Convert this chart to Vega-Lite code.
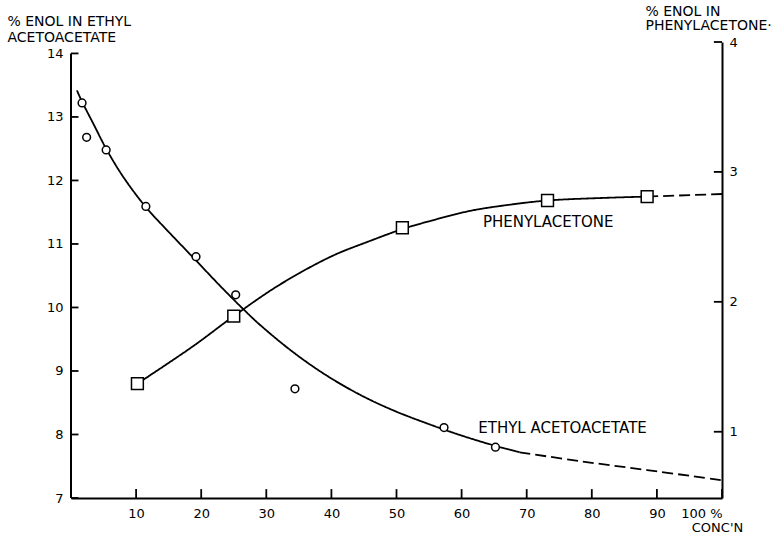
{
  "$schema": "https://vega.github.io/schema/vega-lite/v6.json",
  "width": 651,
  "height": 456,
  "autosize": {"type": "none"},
  "padding": {"left": 71, "top": 42, "right": 61, "bottom": 37},
  "background": "white",
  "config": {
    "view": {"stroke": null},
    "font": "DejaVu Sans",
    "axis": {
      "grid": false,
      "ticks": false,
      "domainColor": "black",
      "domainWidth": 2,
      "labelColor": "black",
      "labelFont": "DejaVu Sans",
      "labelFontSize": 13,
      "titleFont": "DejaVu Sans",
      "titleFontSize": 14,
      "titleFontWeight": "normal",
      "titleColor": "black"
    }
  },
  "datasets": {
    "ethylPts": [
      {"conc": 1.7, "enol": 13.22},
      {"conc": 2.4, "enol": 12.68},
      {"conc": 5.4, "enol": 12.48},
      {"conc": 11.5, "enol": 11.59},
      {"conc": 19.2, "enol": 10.8},
      {"conc": 25.3, "enol": 10.2},
      {"conc": 34.4, "enol": 8.72},
      {"conc": 57.3, "enol": 8.11},
      {"conc": 65.2, "enol": 7.8}
    ],
    "ethylCurve": [
      {"conc": 0.9, "enol": 13.42, "seg": "solid"},
      {"conc": 1.7, "enol": 13.24, "seg": "solid"},
      {"conc": 3.5, "enol": 12.88, "seg": "solid"},
      {"conc": 5.4, "enol": 12.5, "seg": "solid"},
      {"conc": 8, "enol": 12.06, "seg": "solid"},
      {"conc": 11.5, "enol": 11.58, "seg": "solid"},
      {"conc": 15, "enol": 11.19, "seg": "solid"},
      {"conc": 19.2, "enol": 10.74, "seg": "solid"},
      {"conc": 23, "enol": 10.33, "seg": "solid"},
      {"conc": 26.6, "enol": 9.96, "seg": "solid"},
      {"conc": 29.1, "enol": 9.72, "seg": "solid"},
      {"conc": 34.2, "enol": 9.29, "seg": "solid"},
      {"conc": 39.4, "enol": 8.92, "seg": "solid"},
      {"conc": 44.5, "enol": 8.62, "seg": "solid"},
      {"conc": 49.5, "enol": 8.38, "seg": "solid"},
      {"conc": 54.8, "enol": 8.17, "seg": "solid"},
      {"conc": 59.8, "enol": 7.99, "seg": "solid"},
      {"conc": 65.2, "enol": 7.82, "seg": "solid"},
      {"conc": 68.9, "enol": 7.72, "seg": "solid"},
      {"conc": 68.9, "enol": 7.72, "seg": "dashed"},
      {"conc": 78.2, "enol": 7.58, "seg": "dashed"},
      {"conc": 88.5, "enol": 7.44, "seg": "dashed"},
      {"conc": 100, "enol": 7.28, "seg": "dashed"}
    ],
    "phenylPts": [
      {"conc": 10.2, "enol": 1.37},
      {"conc": 25, "enol": 1.89},
      {"conc": 50.9, "enol": 2.57},
      {"conc": 73.2, "enol": 2.78},
      {"conc": 88.5, "enol": 2.81}
    ],
    "phenylCurve": [
      {"conc": 10.2, "enol": 1.37, "seg": "solid"},
      {"conc": 18.8, "enol": 1.66, "seg": "solid"},
      {"conc": 25, "enol": 1.89, "seg": "solid"},
      {"conc": 32, "enol": 2.13, "seg": "solid"},
      {"conc": 40, "enol": 2.35, "seg": "solid"},
      {"conc": 46, "enol": 2.47, "seg": "solid"},
      {"conc": 50.9, "enol": 2.56, "seg": "solid"},
      {"conc": 55, "enol": 2.62, "seg": "solid"},
      {"conc": 61.3, "enol": 2.7, "seg": "solid"},
      {"conc": 67, "enol": 2.745, "seg": "solid"},
      {"conc": 73.2, "enol": 2.78, "seg": "solid"},
      {"conc": 81.9, "enol": 2.8, "seg": "solid"},
      {"conc": 88.5, "enol": 2.81, "seg": "solid"},
      {"conc": 88.5, "enol": 2.81, "seg": "dashed"},
      {"conc": 100, "enol": 2.83, "seg": "dashed"}
    ],
    "labels": [
      {"conc": 73.3, "enol": 11.35, "text": "PHENYLACETONE"},
      {"conc": 75.5, "enol": 8.11, "text": "ETHYL ACETOACETATE"}
    ],
    "xTicks": [{"v": 10}, {"v": 20}, {"v": 30}, {"v": 40}, {"v": 50}, {"v": 60}, {"v": 70}, {"v": 80}, {"v": 90}, {"v": 100}],
    "leftTicks": [{"v": 7}, {"v": 8}, {"v": 9}, {"v": 10}, {"v": 11}, {"v": 12}, {"v": 13}, {"v": 14}],
    "rightTicks": [{"v": 1}, {"v": 2}, {"v": 3}, {"v": 4}]
  },
  "layer": [
    {
      "layer": [
        {
          "data": {"name": "ethylCurve"},
          "mark": {"type": "line", "interpolate": "catmull-rom", "color": "black", "strokeWidth": 1.8},
          "encoding": {
            "x": {
              "field": "conc", "type": "quantitative",
              "scale": {"domain": [0, 100], "nice": false, "zero": false},
              "axis": {
                "values": [10, 20, 30, 40, 50, 60, 70, 80, 90, 100],
                "labelExpr": "datum.value == 100 ? '100 %' : datum.label",
                "labelPadding": 9,
                "title": "CONC'N",
                "titleFontSize": 13,
                "titleAnchor": null,
                "titleAlign": "center",
                "titleBaseline": "alphabetic",
                "titleX": 646,
                "titleY": 33
              }
            },
            "y": {
              "field": "enol", "type": "quantitative",
              "scale": {"domain": [7, 14.18], "nice": false, "zero": false},
              "axis": {
                "values": [7, 8, 9, 10, 11, 12, 13, 14],
                "format": "d",
                "domain": false,
                "labelPadding": 8,
                "title": ["% ENOL IN ETHYL", "ACETOACETATE"],
                "titleAngle": 0,
                "titleAlign": "left",
                "titleBaseline": "alphabetic",
                "titleLineHeight": 16.5,
                "titleX": -64,
                "titleY": -17
              }
            },
            "strokeDash": {
              "field": "seg", "type": "nominal",
              "scale": {"domain": ["solid", "dashed"], "range": [[1, 0], [11, 5]]},
              "legend": null
            }
          }
        },
        {
          "data": {"values": [{"k": 1}]},
          "mark": {"type": "rule", "color": "black", "strokeWidth": 2},
          "encoding": {
            "x": {"datum": 0, "type": "quantitative"},
            "y": {"datum": 7, "type": "quantitative"},
            "y2": {"datum": 14}
          }
        },
        {
          "data": {"name": "leftTicks"},
          "mark": {"type": "rule", "color": "black", "strokeWidth": 1.8},
          "encoding": {
            "x": {"datum": 0, "type": "quantitative"},
            "x2": {"datum": 1.15},
            "y": {"field": "v", "type": "quantitative"}
          }
        },
        {
          "data": {"name": "xTicks"},
          "mark": {"type": "rule", "color": "black", "strokeWidth": 1.8},
          "encoding": {
            "x": {"field": "v", "type": "quantitative"},
            "y": {"datum": 7, "type": "quantitative"},
            "y2": {"datum": 7.14}
          }
        },
        {
          "data": {"name": "ethylPts"},
          "mark": {"type": "point", "shape": "circle", "filled": true, "fill": "white", "stroke": "black", "strokeWidth": 1.5, "size": 60, "opacity": 1},
          "encoding": {
            "x": {"field": "conc", "type": "quantitative"},
            "y": {"field": "enol", "type": "quantitative"}
          }
        },
        {
          "data": {"name": "labels"},
          "mark": {"type": "text", "font": "DejaVu Sans", "fontSize": 15, "color": "black", "align": "center", "baseline": "middle"},
          "encoding": {
            "x": {"field": "conc", "type": "quantitative"},
            "y": {"field": "enol", "type": "quantitative"},
            "text": {"field": "text", "type": "nominal"}
          }
        }
      ]
    },
    {
      "layer": [
        {
          "data": {"name": "phenylCurve"},
          "mark": {"type": "line", "interpolate": "catmull-rom", "color": "black", "strokeWidth": 1.8},
          "encoding": {
            "x": {"field": "conc", "type": "quantitative"},
            "y": {
              "field": "enol", "type": "quantitative",
              "scale": {"domain": [0.49, 4.0], "nice": false, "zero": false},
              "axis": {
                "orient": "right",
                "values": [1, 2, 3, 4],
                "format": "d",
                "labelPadding": 7,
                "title": ["% ENOL IN", "PHENYLACETONE·"],
                "titleAngle": 0,
                "titleAlign": "left",
                "titleBaseline": "alphabetic",
                "titleLineHeight": 14.5,
                "titleX": -77,
                "titleY": -27
              }
            },
            "strokeDash": {
              "field": "seg", "type": "nominal",
              "scale": {"domain": ["solid", "dashed"], "range": [[1, 0], [11, 5]]},
              "legend": null
            }
          }
        },
        {
          "data": {"name": "rightTicks"},
          "mark": {"type": "rule", "color": "black", "strokeWidth": 1.8},
          "encoding": {
            "x": {"datum": 100, "type": "quantitative"},
            "x2": {"datum": 98.75},
            "y": {"field": "v", "type": "quantitative"}
          }
        },
        {
          "data": {"name": "phenylPts"},
          "mark": {"type": "point", "shape": "square", "filled": true, "fill": "white", "stroke": "black", "strokeWidth": 1.5, "size": 140, "opacity": 1},
          "encoding": {
            "x": {"field": "conc", "type": "quantitative"},
            "y": {"field": "enol", "type": "quantitative"}
          }
        }
      ]
    }
  ],
  "resolve": {"scale": {"y": "independent"}}
}
